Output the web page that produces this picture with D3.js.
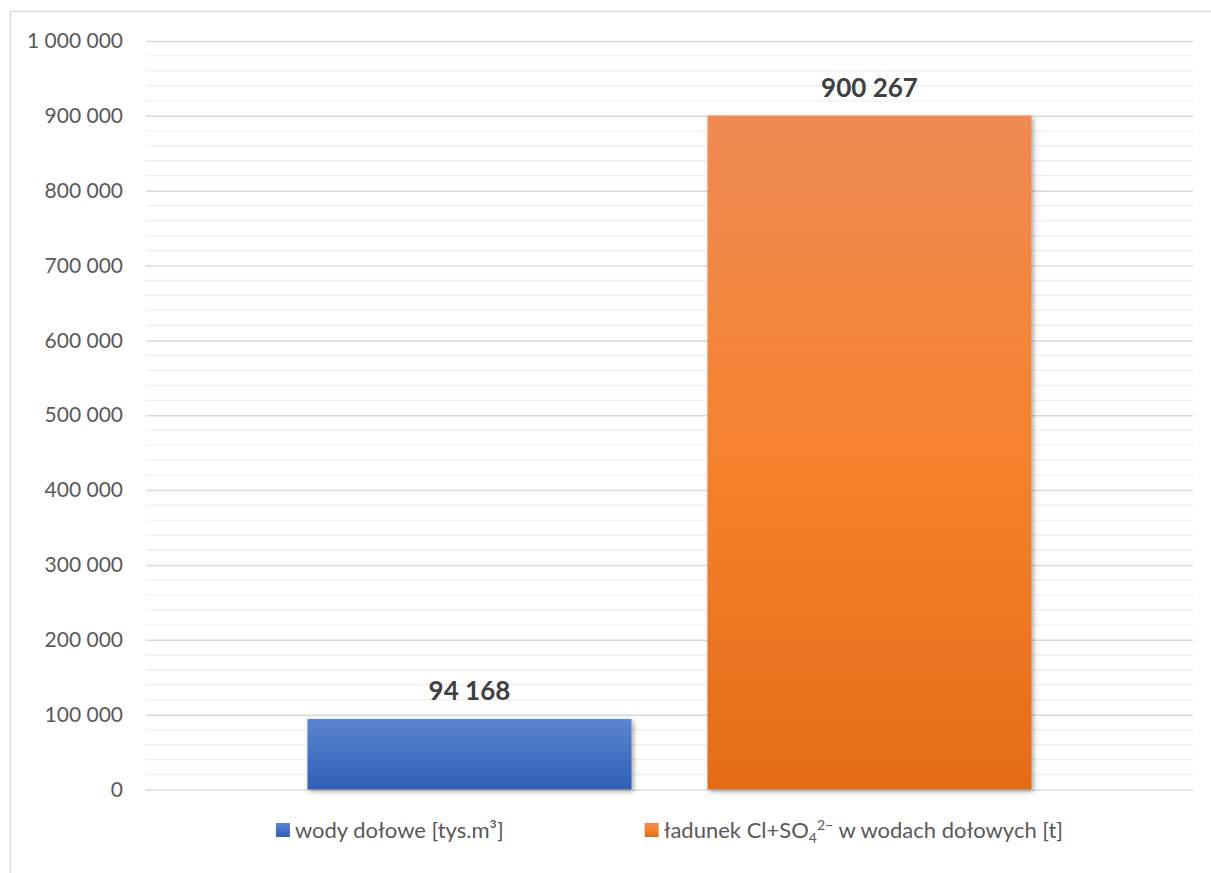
<!DOCTYPE html>
<html>
<head>
<meta charset="utf-8">
<script src="https://cdn.jsdelivr.net/npm/d3@7"></script>
<style>
  body { margin: 0; background: #fff; }
  svg { display: block; font-family: Lato, "Open Sans", sans-serif; }
</style>
</head>
<body>
<div id="chart"></div>
<script>
// data
const category = [""];
const seriesKeys = ["wody", "ladunek"];
const seriesValues = [94168, 900267];
const yTicks = [0, 100000, 200000, 300000, 400000, 500000, 600000, 700000, 800000, 900000, 1000000];

const width = 1211, height = 873;
const margin = { top: 41, right: 18, bottom: 83.5, left: 146 };

const svg = d3.select("#chart").append("svg")
  .attr("width", width)
  .attr("height", height);

// outer frame of the chart area
svg.append("rect")
  .attr("x", 10.5).attr("y", 11.5)
  .attr("width", width).attr("height", height)
  .attr("fill", "none")
  .attr("stroke", "#d9d9d9")
  .attr("stroke-width", 1.5);

const defs = svg.append("defs");

// gradients like the office fill
const gradStops = {
  wody: ["#5b84cf", "#4472c4", "#2f5fb8"],
  ladunek: ["#f08a54", "#f5822e", "#e46c18"]
};
seriesKeys.forEach(k => {
  const g = defs.append("linearGradient")
    .attr("id", "grad-" + k)
    .attr("x1", 0).attr("y1", 0).attr("x2", 0).attr("y2", 1);
  g.append("stop").attr("offset", "0%").attr("stop-color", gradStops[k][0]);
  g.append("stop").attr("offset", "50%").attr("stop-color", gradStops[k][1]);
  g.append("stop").attr("offset", "100%").attr("stop-color", gradStops[k][2]);
});

const shadow = defs.append("filter")
  .attr("id", "shadow")
  .attr("x", "-10%").attr("y", "-10%")
  .attr("width", "120%").attr("height", "120%");
shadow.append("feDropShadow")
  .attr("dx", 2).attr("dy", 2)
  .attr("stdDeviation", 2.5)
  .attr("flood-color", "#000")
  .attr("flood-opacity", 0.35);

// scales
const x0 = d3.scaleBand()
  .domain(category)
  .range([margin.left, width - margin.right])
  .paddingInner(0)
  .paddingOuter(0.223);

const x1 = d3.scaleBand()
  .domain(seriesKeys)
  .range([0, x0.bandwidth()])
  .paddingInner(0.19)
  .paddingOuter(0);

const y = d3.scaleLinear()
  .domain([0, 1000000])
  .range([height - margin.bottom, margin.top]);

const fmt = v => d3.format(",")(v).replace(/,/g, " ");

// minor gridlines every 20 000
const minor = d3.range(0, 1000001, 20000).filter(v => v % 100000 !== 0);
svg.append("g")
  .attr("class", "minor-grid")
  .selectAll("line")
  .data(minor)
  .enter().append("line")
  .attr("x1", margin.left)
  .attr("x2", width - margin.right)
  .attr("y1", d => y(d))
  .attr("y2", d => y(d))
  .attr("stroke", "#efefef")
  .attr("stroke-width", 1.3);

// y axis with major gridlines
const yAxis = d3.axisLeft(y)
  .tickValues(yTicks)
  .tickFormat(fmt)
  .tickSize(-(width - margin.left - margin.right))
  .tickPadding(23);

const yg = svg.append("g")
  .attr("class", "y-axis")
  .attr("transform", `translate(${margin.left},0)`)
  .call(yAxis);
yg.select(".domain").remove();
yg.selectAll(".tick line")
  .attr("stroke", "#d9d9d9")
  .attr("stroke-width", 1.5);
yg.selectAll(".tick text")
  .attr("fill", "#595959")
  .style("font-size", "21px")
  .style("font-family", "Lato, sans-serif");

// bars
const group = svg.append("g")
  .selectAll("g")
  .data(category)
  .enter().append("g")
  .attr("transform", d => `translate(${x0(d)},0)`);

const bars = group.selectAll("rect")
  .data(seriesKeys.map((k, i) => ({ key: k, value: seriesValues[i] })))
  .enter().append("rect")
  .attr("x", d => x1(d.key))
  .attr("y", d => y(d.value))
  .attr("width", x1.bandwidth())
  .attr("height", d => y(0) - y(d.value))
  .attr("fill", d => `url(#grad-${d.key})`)
  .attr("filter", "url(#shadow)");

// value labels
group.selectAll("text.value")
  .data(seriesKeys.map((k, i) => ({ key: k, value: seriesValues[i] })))
  .enter().append("text")
  .attr("class", "value")
  .attr("x", d => x1(d.key) + x1.bandwidth() / 2)
  .attr("y", d => y(d.value) - 19)
  .attr("text-anchor", "middle")
  .attr("fill", "#404040")
  .style("font-size", "26px")
  .style("font-weight", "bold")
  .text(d => fmt(d.value));

// legend
const legend = svg.append("g").attr("class", "legend");
const legendY = 830;

const entries = legend.selectAll("g")
  .data(seriesKeys)
  .enter().append("g");

entries.append("rect")
  .attr("width", 14).attr("height", 14)
  .attr("y", legendY - 7)
  .attr("fill", d => `url(#grad-${d})`);

const labels = entries.append("text")
  .attr("x", 19)
  .attr("y", legendY)
  .attr("dy", "0.35em")
  .attr("fill", "#595959")
  .style("font-size", "22px");

labels.filter(d => d === "wody").text("wody dołowe [tys.m³]");

const lad = labels.filter(d => d === "ladunek");
lad.append("tspan").text("ładunek Cl+SO");
lad.append("tspan").attr("dy", 5).style("font-size", "14px").text("4");
lad.append("tspan").attr("dy", -13).style("font-size", "14px").text("2−");
lad.append("tspan").attr("dy", 8).text(" w wodach dołowych [t]");

// lay entries out centred under the plot
const gap = 141;
const widths = [];
entries.each(function () { widths.push(this.getBBox().width); });
const total = d3.sum(widths) + gap * (widths.length - 1);
let cx = (margin.left + width - margin.right) / 2 - total / 2;
entries.attr("transform", (d, i) => {
  const t = `translate(${cx},0)`;
  cx += widths[i] + gap;
  return t;
});
</script>
</body>
</html>
